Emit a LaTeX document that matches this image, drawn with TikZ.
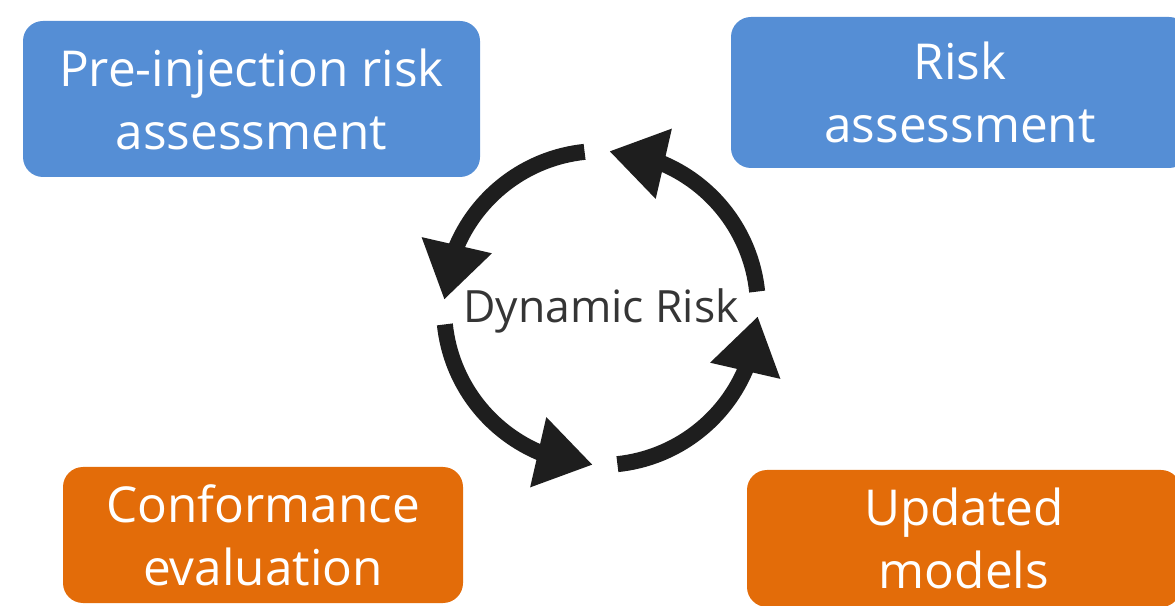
\documentclass[tikz,border=0pt]{standalone}
\usepackage{fontspec}
\setmainfont{Open Sans}
\usetikzlibrary{arrows.meta,bending}

\definecolor{stageblue}{HTML}{558ED5}
\definecolor{stageorange}{HTML}{E36C09}
\definecolor{cycleink}{HTML}{1E1E1E}

\tikzset{
  stagebox/.style={rounded corners=20pt, text=white, align=center, inner sep=0pt,
    font=\fontsize{49.5}{63}\selectfont},
  cyclearrow/.style={line width=16pt, draw=cycleink,
    -{Triangle[length=56pt,width=68pt,flex]}},
}

\begin{document}
\begin{tikzpicture}[x=1pt,y=1pt]
    \useasboundingbox (0,0) rectangle (1175,605);
    % Stages in the four corners
    \node[stagebox, fill=stageblue, minimum width=457pt, minimum height=156pt]
      (pre) at (251.5,506) {Pre-injection risk\\assessment};
    \node[stagebox, fill=stageblue, minimum width=458pt, minimum height=151pt]
      (risk) at (960,512.5) {Risk\\assessment};
    \node[stagebox, fill=stageorange, minimum width=400pt, minimum height=136pt]
      (conf) at (263,70) {Conformance\\evaluation};
    \node[stagebox, fill=stageorange, minimum width=434pt, minimum height=137pt]
      (upd) at (964,66.5) {Updated\\models};
    % Cycle in the middle
    \coordinate (hub) at (601,297);
    \node[anchor=base, text=cycleink!90, font=\fontsize{44.5}{50}\selectfont]
      (dyn) at ([yshift=-15pt]hub) {Dynamic Risk};
    \foreach \a in {6,96,186,276} {
      \draw[cyclearrow] ([shift={(\a:157)}]hub) arc[start angle=\a, end angle=\a+81, radius=157];
    }
\end{tikzpicture}
\end{document}
